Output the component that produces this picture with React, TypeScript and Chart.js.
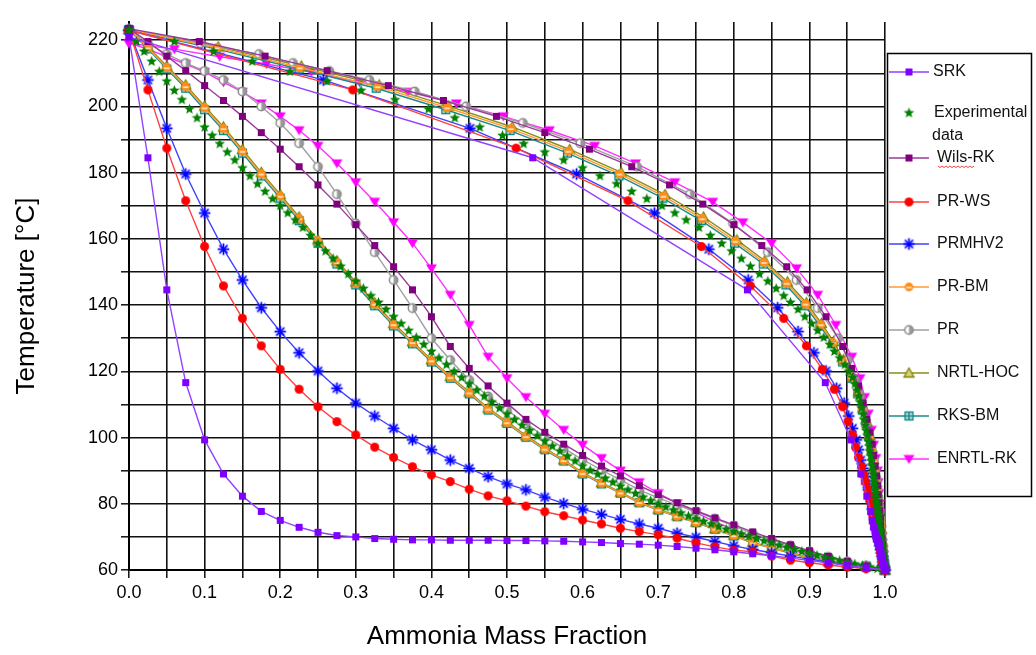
import React, { useEffect, useRef } from 'react';
import { Chart, registerables } from 'chart.js';

Chart.register(...registerables);

const FONT = "'Liberation Sans', Arial, Helvetica, sans-serif";

// Liquid ammonia mass fraction grid of the model curves (bubble line)
const xModel = [0, 0.025, 0.05, 0.075, 0.1, 0.125, 0.15, 0.175, 0.2, 0.225, 0.25, 0.275, 0.3, 0.325, 0.35, 0.375, 0.4, 0.425, 0.45, 0.475, 0.5, 0.525, 0.55, 0.575, 0.6, 0.625, 0.65, 0.675, 0.7, 0.725, 0.75, 0.775, 0.8, 0.825, 0.85, 0.875, 0.9, 0.925, 0.95, 0.975, 1.0];

// Temperatures (bubble) and vapour mass fractions (dew) per model
const srkT = [221.0, 184.5, 144.6, 116.6, 99.3, 89.0, 82.3, 77.7, 75.0, 72.9, 71.4, 70.4, 70.0, 69.5, 69.3, 69.1, 69.1, 69.0, 69.0, 69.0, 68.9, 68.9, 68.8, 68.7, 68.5, 68.3, 68.0, 67.8, 67.5, 67.1, 66.6, 66.1, 65.5, 64.9, 64.3, 63.6, 62.9, 62.1, 61.4, 60.7, 60.0];
const srkY = [0.000, 0.534, 0.818, 0.921, 0.955, 0.968, 0.976, 0.981, 0.983, 0.985, 0.987, 0.988, 0.988, 0.989, 0.989, 0.990, 0.990, 0.990, 0.990, 0.990, 0.990, 0.990, 0.991, 0.991, 0.991, 0.991, 0.992, 0.992, 0.992, 0.993, 0.993, 0.994, 0.994, 0.995, 0.995, 0.996, 0.997, 0.997, 0.998, 0.999, 1.000];

const wilsT = [223.5, 219.6, 215.2, 210.8, 206.3, 201.8, 197.0, 192.1, 187.1, 181.8, 176.3, 170.5, 164.3, 158.0, 151.6, 144.6, 136.5, 127.5, 120.9, 115.6, 110.4, 105.5, 101.6, 98.0, 94.6, 91.4, 88.4, 85.5, 82.8, 80.3, 77.9, 75.7, 73.6, 71.5, 69.5, 67.6, 65.8, 64.1, 62.6, 61.2, 60.0];
const wilsY = [0.000, 0.093, 0.180, 0.262, 0.343, 0.416, 0.486, 0.550, 0.609, 0.665, 0.715, 0.759, 0.800, 0.837, 0.870, 0.897, 0.922, 0.944, 0.956, 0.965, 0.971, 0.976, 0.980, 0.983, 0.985, 0.987, 0.989, 0.990, 0.991, 0.992, 0.993, 0.994, 0.994, 0.995, 0.996, 0.997, 0.997, 0.998, 0.998, 0.999, 1.000];

const prwsT = [223.0, 205.0, 187.4, 171.5, 157.7, 145.8, 136.0, 127.7, 120.6, 114.6, 109.3, 104.8, 100.8, 97.1, 94.0, 91.2, 88.7, 86.7, 84.4, 82.4, 80.9, 79.3, 77.6, 76.4, 75.1, 73.9, 72.6, 71.6, 70.6, 69.6, 68.2, 67.0, 66.0, 65.5, 64.2, 63.0, 62.2, 61.5, 60.9, 60.4, 60.0];
const prwsY = [0.000, 0.296, 0.512, 0.660, 0.757, 0.822, 0.866, 0.896, 0.917, 0.933, 0.944, 0.951, 0.957, 0.961, 0.965, 0.969, 0.972, 0.974, 0.977, 0.979, 0.980, 0.982, 0.983, 0.984, 0.985, 0.986, 0.988, 0.989, 0.990, 0.990, 0.992, 0.993, 0.994, 0.994, 0.995, 0.996, 0.997, 0.998, 0.998, 0.999, 1.000];

const prmhvT = [223.0, 208.0, 193.4, 179.6, 167.8, 156.9, 147.6, 139.2, 132.0, 125.6, 120.1, 114.9, 110.4, 106.5, 102.8, 99.3, 96.3, 93.2, 90.7, 88.2, 86.0, 84.2, 82.0, 80.1, 78.4, 76.8, 75.3, 73.9, 72.6, 71.1, 69.9, 68.6, 67.3, 66.2, 65.2, 64.2, 63.3, 62.4, 61.6, 60.8, 60.0];
const prmhvY = [0.000, 0.257, 0.451, 0.592, 0.695, 0.767, 0.819, 0.858, 0.885, 0.906, 0.922, 0.936, 0.946, 0.952, 0.957, 0.962, 0.965, 0.968, 0.971, 0.974, 0.976, 0.978, 0.980, 0.982, 0.983, 0.985, 0.986, 0.987, 0.988, 0.990, 0.991, 0.992, 0.993, 0.994, 0.995, 0.996, 0.997, 0.997, 0.998, 0.999, 1.000];

const prbmT = [223.2, 217.7, 211.7, 206.0, 199.6, 193.3, 186.5, 179.6, 172.9, 166.1, 159.3, 152.9, 146.6, 140.3, 134.1, 128.7, 123.2, 118.2, 113.5, 108.6, 104.5, 100.3, 96.5, 93.1, 89.2, 86.2, 83.3, 80.4, 78.2, 76.2, 74.4, 72.4, 70.4, 68.2, 66.7, 65.1, 63.6, 62.5, 61.8, 61.2, 60.0];
const prbmY = [0.000, 0.116, 0.226, 0.329, 0.421, 0.505, 0.581, 0.649, 0.707, 0.758, 0.802, 0.840, 0.870, 0.895, 0.915, 0.931, 0.944, 0.956, 0.964, 0.970, 0.975, 0.979, 0.982, 0.985, 0.987, 0.989, 0.990, 0.991, 0.992, 0.993, 0.994, 0.995, 0.995, 0.996, 0.997, 0.997, 0.998, 0.998, 0.999, 0.999, 1.000];

const prT = [223.3, 219.0, 215.8, 213.1, 210.7, 208.0, 204.5, 200.0, 195.0, 188.9, 181.8, 173.5, 164.7, 156.0, 147.6, 139.1, 130.0, 123.4, 117.4, 112.4, 108.3, 104.2, 100.3, 96.8, 93.3, 90.2, 87.2, 84.2, 81.8, 79.6, 77.6, 75.5, 73.3, 71.0, 69.2, 67.4, 65.6, 64.0, 62.6, 61.3, 60.0];
const prY = [0.000, 0.095, 0.172, 0.217, 0.265, 0.318, 0.378, 0.446, 0.521, 0.597, 0.672, 0.742, 0.799, 0.845, 0.883, 0.911, 0.938, 0.951, 0.960, 0.967, 0.971, 0.975, 0.979, 0.982, 0.985, 0.987, 0.989, 0.990, 0.991, 0.992, 0.993, 0.994, 0.994, 0.995, 0.996, 0.997, 0.997, 0.998, 0.998, 0.999, 1.000];

const nrtlT = [223.3, 218.0, 212.2, 206.5, 200.1, 193.8, 187.0, 180.1, 173.4, 166.6, 159.7, 153.4, 147.0, 140.7, 134.5, 129.0, 123.5, 118.5, 113.8, 108.9, 104.8, 100.6, 96.8, 93.3, 89.4, 86.4, 83.5, 80.6, 78.4, 76.4, 74.5, 72.5, 70.5, 68.3, 66.8, 65.2, 63.7, 62.6, 61.9, 61.2, 60.0];
const nrtlY = [0.000, 0.118, 0.228, 0.331, 0.423, 0.507, 0.583, 0.651, 0.709, 0.760, 0.804, 0.841, 0.871, 0.896, 0.916, 0.932, 0.945, 0.957, 0.965, 0.971, 0.976, 0.980, 0.983, 0.985, 0.987, 0.989, 0.990, 0.991, 0.992, 0.993, 0.994, 0.995, 0.995, 0.996, 0.997, 0.997, 0.998, 0.998, 0.999, 0.999, 1.000];

const rksT = [223.1, 217.4, 211.3, 205.5, 199.0, 192.7, 185.9, 179.0, 172.3, 165.5, 158.7, 152.4, 146.1, 139.8, 133.7, 128.3, 122.8, 117.9, 113.2, 108.3, 104.3, 100.1, 96.3, 92.9, 89.0, 86.0, 83.2, 80.3, 78.1, 76.1, 74.3, 72.3, 70.3, 68.1, 66.6, 65.0, 63.5, 62.5, 61.8, 61.2, 60.0];
const rksY = [0.000, 0.115, 0.225, 0.327, 0.419, 0.504, 0.580, 0.648, 0.706, 0.757, 0.801, 0.839, 0.869, 0.894, 0.914, 0.931, 0.944, 0.956, 0.964, 0.970, 0.975, 0.979, 0.982, 0.985, 0.987, 0.989, 0.990, 0.991, 0.992, 0.993, 0.994, 0.995, 0.995, 0.996, 0.997, 0.997, 0.998, 0.998, 0.999, 0.999, 1.000];

const enrtlT = [219.1, 217.3, 215.0, 212.8, 210.4, 207.3, 204.4, 200.9, 197.0, 192.8, 188.1, 182.8, 177.1, 171.2, 165.0, 158.7, 151.1, 143.1, 134.0, 124.4, 117.9, 112.2, 107.2, 102.3, 97.8, 93.8, 90.0, 86.5, 83.2, 80.1, 77.3, 74.6, 72.1, 70.0, 68.1, 66.2, 64.5, 63.0, 61.8, 60.8, 60.0];
const enrtlY = [0.000, 0.060, 0.120, 0.182, 0.241, 0.305, 0.369, 0.433, 0.495, 0.556, 0.616, 0.670, 0.722, 0.772, 0.812, 0.850, 0.883, 0.911, 0.935, 0.956, 0.967, 0.973, 0.978, 0.982, 0.985, 0.988, 0.990, 0.991, 0.992, 0.993, 0.994, 0.994, 0.995, 0.996, 0.996, 0.997, 0.998, 0.998, 0.999, 0.999, 1.000];

// Experimental data: liquid fraction, temperature, vapour fraction
const xExp = [0.00, 0.01, 0.02, 0.03, 0.04, 0.05, 0.06, 0.07, 0.08, 0.09, 0.10, 0.11, 0.12, 0.13, 0.14, 0.15, 0.16, 0.17, 0.18, 0.19, 0.20, 0.21, 0.22, 0.23, 0.24, 0.25, 0.26, 0.27, 0.28, 0.29, 0.30, 0.31, 0.32, 0.33, 0.34, 0.35, 0.36, 0.37, 0.38, 0.39, 0.40, 0.41, 0.42, 0.43, 0.44, 0.45, 0.46, 0.47, 0.48, 0.49, 0.50, 0.51, 0.52, 0.53, 0.54, 0.55, 0.56, 0.57, 0.58, 0.59, 0.60, 0.61, 0.62, 0.63, 0.64, 0.65, 0.66, 0.67, 0.68, 0.69, 0.70, 0.71, 0.72, 0.73, 0.74, 0.75, 0.76, 0.77, 0.78, 0.79, 0.80, 0.81, 0.82, 0.83, 0.84, 0.85, 0.86, 0.87, 0.88, 0.89, 0.90, 0.91, 0.92, 0.93, 0.94, 0.95, 0.96, 0.97, 0.98, 0.99, 1.00];
const expT = [223.0, 219.6, 216.6, 213.6, 210.5, 207.6, 204.8, 202.0, 199.2, 196.5, 193.7, 191.2, 188.7, 186.2, 183.8, 181.4, 179.0, 176.6, 174.3, 172.1, 170.0, 167.8, 165.7, 163.4, 161.0, 158.6, 156.3, 154.0, 151.7, 149.4, 147.2, 145.0, 142.8, 140.8, 138.7, 136.5, 134.4, 132.3, 130.2, 128.1, 126.0, 124.0, 122.0, 120.0, 118.1, 116.2, 114.3, 112.5, 110.7, 108.9, 107.1, 105.4, 103.7, 102.1, 100.5, 98.9, 97.4, 95.9, 94.4, 92.9, 91.4, 90.1, 88.9, 87.7, 86.5, 85.3, 84.2, 83.1, 82.0, 80.9, 79.9, 79.0, 78.1, 77.2, 76.3, 75.5, 74.7, 73.9, 73.1, 72.3, 71.6, 70.9, 70.2, 69.5, 68.8, 68.2, 67.5, 66.9, 66.2, 65.6, 65.0, 64.4, 63.8, 63.3, 62.8, 62.3, 61.8, 61.3, 60.9, 60.4, 60.0];
const expY = [0.000, 0.060, 0.112, 0.163, 0.213, 0.262, 0.307, 0.352, 0.396, 0.431, 0.464, 0.494, 0.522, 0.550, 0.575, 0.600, 0.623, 0.645, 0.665, 0.685, 0.705, 0.722, 0.737, 0.754, 0.769, 0.784, 0.797, 0.810, 0.822, 0.834, 0.845, 0.856, 0.866, 0.875, 0.885, 0.894, 0.903, 0.911, 0.919, 0.927, 0.933, 0.940, 0.947, 0.952, 0.957, 0.960, 0.963, 0.965, 0.967, 0.969, 0.971, 0.972, 0.974, 0.975, 0.977, 0.978, 0.979, 0.980, 0.981, 0.982, 0.983, 0.984, 0.985, 0.985, 0.986, 0.987, 0.987, 0.988, 0.988, 0.989, 0.989, 0.990, 0.990, 0.991, 0.991, 0.992, 0.992, 0.992, 0.993, 0.993, 0.994, 0.994, 0.994, 0.995, 0.995, 0.995, 0.996, 0.996, 0.996, 0.997, 0.997, 0.997, 0.998, 0.998, 0.998, 0.998, 0.999, 0.999, 0.999, 1.000, 1.000];

const yTickValues = [60, 80, 100, 120, 140, 160, 180, 200, 220];

type Draw = (c: CanvasRenderingContext2D) => void;

function makeMarker(draw: Draw): HTMLCanvasElement {
  const c = document.createElement('canvas');
  c.width = 15;
  c.height = 15;
  const ctx = c.getContext('2d') as CanvasRenderingContext2D;
  ctx.translate(7.5, 7.5);
  draw(ctx);
  return c;
}

const drawSquare = (fill: string, s: number): Draw => (c) => {
  c.fillStyle = fill;
  c.fillRect(-s / 2, -s / 2, s, s);
};

const drawCircle = (fill: string, r: number): Draw => (c) => {
  c.fillStyle = fill;
  c.beginPath();
  c.arc(0, 0, r, 0, Math.PI * 2);
  c.fill();
};

const drawAsterisk: Draw = (c) => {
  c.lineCap = 'round';
  for (const [w, col] of [[3, 'rgba(90,90,255,0.35)'], [1.4, '#0000FF']] as [number, string][]) {
    c.strokeStyle = col;
    c.lineWidth = w;
    c.beginPath();
    for (let k = 0; k < 4; k++) {
      const a = (k * Math.PI) / 4;
      c.moveTo(Math.cos(a) * 5, Math.sin(a) * 5);
      c.lineTo(-Math.cos(a) * 5, -Math.sin(a) * 5);
    }
    c.stroke();
  }
  c.fillStyle = '#0000FF';
  c.beginPath();
  c.arc(0, 0, 1.8, 0, Math.PI * 2);
  c.fill();
};

const drawOrange: Draw = (c) => {
  c.fillStyle = '#FF8C1A';
  c.beginPath();
  c.arc(0, 0, 4.4, 0, Math.PI * 2);
  c.fill();
  c.fillStyle = '#FFE0B0';
  c.fillRect(-2.8, -0.3, 5.6, 1.8);
};

const drawGray: Draw = (c) => {
  c.fillStyle = '#ffffff';
  c.beginPath();
  c.arc(0, 0, 4.2, 0, Math.PI * 2);
  c.fill();
  c.fillStyle = '#9a9a9a';
  c.beginPath();
  c.arc(0, 0, 4.2, -Math.PI / 2, Math.PI / 2);
  c.fill();
  c.strokeStyle = '#8c8c8c';
  c.lineWidth = 1.5;
  c.beginPath();
  c.arc(0, 0, 4.2, 0, Math.PI * 2);
  c.stroke();
};

const drawOlive: Draw = (c) => {
  c.beginPath();
  c.moveTo(0, -5);
  c.lineTo(5, 4);
  c.lineTo(-5, 4);
  c.closePath();
  c.fillStyle = '#D4D47A';
  c.fill();
  c.strokeStyle = '#808000';
  c.lineWidth = 1.3;
  c.stroke();
};

const drawTeal: Draw = (c) => {
  c.fillStyle = '#A8D4D4';
  c.fillRect(-4, -4, 8, 8);
  c.strokeStyle = '#008080';
  c.lineWidth = 1.2;
  c.strokeRect(-4, -4, 8, 8);
  c.beginPath();
  c.moveTo(0, -4);
  c.lineTo(0, 4);
  c.moveTo(-4, 0);
  c.lineTo(4, 0);
  c.stroke();
};

const drawMagenta: Draw = (c) => {
  c.beginPath();
  c.moveTo(-5.5, -4);
  c.lineTo(5.5, -4);
  c.lineTo(0, 5);
  c.closePath();
  c.fillStyle = '#FF00FF';
  c.fill();
};

const drawStar: Draw = (c) => {
  c.beginPath();
  for (let k = 0; k < 10; k++) {
    const r = k % 2 === 0 ? 5.6 : 2.4;
    const a = -Math.PI / 2 + (k * Math.PI) / 5;
    const px = Math.cos(a) * r;
    const py = Math.sin(a) * r;
    if (k === 0) c.moveTo(px, py);
    else c.lineTo(px, py);
  }
  c.closePath();
  c.fillStyle = '#008000';
  c.fill();
};

function loopPoints(xs: number[], T: number[], Y: number[]) {
  const pts = xs.map((x, i) => ({ x, y: T[i] }));
  for (let i = xs.length - 1; i >= 0; i--) pts.push({ x: Y[i], y: T[i] });
  return pts;
}

export default function App() {
  const ref = useRef<HTMLCanvasElement | null>(null);

  useEffect(() => {
    const canvas = ref.current;
    if (!canvas) return;

    const models = [
      { label: 'SRK', T: srkT, Y: srkY, line: '#9440FF', draw: drawSquare('#7F00FF', 7) },
      { label: 'Experimental data', T: expT, Y: expY, line: '', draw: drawStar },
      { label: 'Wils-RK', T: wilsT, Y: wilsY, line: '#9A3A9A', draw: drawSquare('#800080', 7) },
      { label: 'PR-WS', T: prwsT, Y: prwsY, line: '#FF4040', draw: drawCircle('#FF0000', 4.5) },
      { label: 'PRMHV2', T: prmhvT, Y: prmhvY, line: '#4040FF', draw: drawAsterisk },
      { label: 'PR-BM', T: prbmT, Y: prbmY, line: '#FF9A30', draw: drawOrange },
      { label: 'PR', T: prT, Y: prY, line: '#A0A0A0', draw: drawGray },
      { label: 'NRTL-HOC', T: nrtlT, Y: nrtlY, line: '#8C8C1A', draw: drawOlive },
      { label: 'RKS-BM', T: rksT, Y: rksY, line: '#1A8C8C', draw: drawTeal },
      { label: 'ENRTL-RK', T: enrtlT, Y: enrtlY, line: '#FF30FF', draw: drawMagenta },
    ].map((m) => ({ ...m, marker: makeMarker(m.draw) }));

    const datasets = models.map((m) => {
      const isExp = m.label === 'Experimental data';
      const data = isExp
        ? [...xExp.map((x, i) => ({ x, y: expT[i] })), ...expY.map((y, i) => ({ x: y, y: expT[i] }))]
        : loopPoints(xModel, m.T, m.Y);
      return {
        label: m.label,
        data,
        showLine: !isExp,
        borderColor: m.line || '#008000',
        backgroundColor: m.line || '#008000',
        borderWidth: 1.4,
        pointStyle: m.marker,
        pointRadius: 5,
        pointHoverRadius: 5,
        tension: 0,
        fill: false,
        clip: false,
      };
    });

    const legendRows = [72, 113, 158, 202, 244, 287, 330, 373, 416, 459];

    const legendPlugin = {
      id: 'boxLegend',
      afterDraw(chart: any) {
        const ctx = chart.ctx as CanvasRenderingContext2D;
        ctx.save();
        ctx.fillStyle = '#ffffff';
        ctx.fillRect(887, 53, 145, 444);
        ctx.strokeStyle = '#000';
        ctx.lineWidth = 1.5;
        ctx.strokeRect(887.5, 53.5, 144, 443);
        ctx.font = `16px ${FONT}`;
        ctx.textBaseline = 'middle';
        models.forEach((m, i) => {
          const y = legendRows[i];
          if (m.line) {
            ctx.strokeStyle = m.line;
            ctx.lineWidth = 1.5;
            ctx.beginPath();
            ctx.moveTo(889, y);
            ctx.lineTo(929, y);
            ctx.stroke();
          }
          ctx.drawImage(m.marker, 909 - 7.5, y - 7.5);
          ctx.fillStyle = '#111';
          if (m.label === 'Experimental data') {
            ctx.fillText('Experimental', 934, y);
            ctx.fillText('data', 932, y + 23);
          } else {
            ctx.fillText(m.label, m.label === 'SRK' ? 933 : 937, y);
          }
          if (m.label === 'Wils-RK') {
            ctx.strokeStyle = 'rgba(235,40,40,0.85)';
            ctx.lineWidth = 1;
            ctx.beginPath();
            for (let k = 0; k <= 18; k++) {
              const px = 938 + k * 2;
              const py = y + 8 + (k % 2 === 0 ? 0 : 1.6);
              if (k === 0) ctx.moveTo(px, py);
              else ctx.lineTo(px, py);
            }
            ctx.stroke();
          }
        });
        ctx.restore();
      },
    };

    const chart = new Chart(canvas, {
      type: 'scatter',
      data: { datasets: datasets as any },
      options: {
        animation: false,
        responsive: false,
        maintainAspectRatio: false,
        events: [],
        layout: { padding: { left: 0, right: 151, top: 22, bottom: 0 } },
        plugins: { legend: { display: false }, tooltip: { enabled: false } },
        scales: {
          x: {
            type: 'linear',
            min: 0,
            max: 1,
            ticks: {
              stepSize: 0.05,
              autoSkip: false,
              maxRotation: 0,
              padding: 4,
              color: '#000',
              font: { family: FONT, size: 18 },
              callback: (v: any) => {
                const k = Math.round(Number(v) * 20);
                return k % 2 === 0 ? (k / 20).toFixed(1) : '';
              },
            },
            grid: { color: '#111', lineWidth: 1.6, tickLength: 8, tickColor: '#111', tickWidth: 1.5 },
            border: { color: '#000', width: 2 },
            title: {
              display: true,
              text: 'Ammonia Mass Fraction',
              color: '#000',
              font: { family: FONT, size: 26 },
              padding: { top: 0, bottom: 3 },
            },
            afterFit: (s: any) => {
              s.height = 85;
            },
          },
          y: {
            type: 'linear',
            min: 60,
            max: 225.5,
            ticks: {
              stepSize: 10,
              includeBounds: false,
              autoSkip: false,
              padding: 3,
              color: '#000',
              font: { family: FONT, size: 18 },
              callback: (v: any) => (yTickValues.includes(Number(v)) ? String(v) : ''),
            },
            grid: { color: '#111', lineWidth: 1.6, tickLength: 8, tickColor: '#111', tickWidth: 1.5 },
            border: { color: '#000', width: 2 },
            title: {
              display: true,
              text: 'Temperature [°C]',
              color: '#000',
              font: { family: FONT, size: 26 },
              padding: { top: 11, bottom: 0 },
            },
            afterFit: (s: any) => {
              s.width = 129;
            },
          },
        },
      },
      plugins: [legendPlugin],
    } as any);

    return () => {
      chart.destroy();
    };
  }, []);

  return (
    <div style={{ position: 'fixed', left: 0, top: 0, width: 1036, height: 655, background: '#fff' }}>
      <canvas ref={ref} width={1036} height={655} style={{ display: 'block', width: 1036, height: 655 }} />
    </div>
  );
}
